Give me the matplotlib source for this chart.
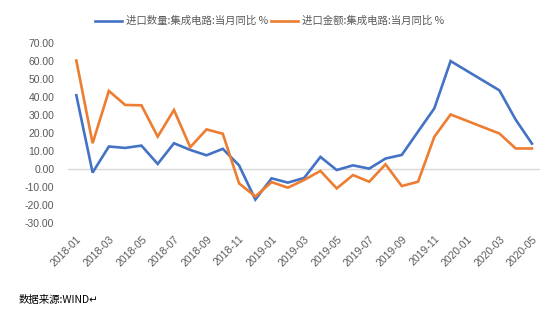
import numpy as np
import matplotlib
matplotlib.use("Agg")
import matplotlib.pyplot as plt

plt.rcParams['font.family'] = ['Liberation Sans', 'Noto Sans CJK SC', 'DejaVu Sans']

# monthly labels 2018-01 .. 2020-05
months = [f"{y}-{m:02d}" for y in (2018, 2019, 2020) for m in range(1, 13)][:29]

# year-on-year growth, %; Jan/Feb 2020 not published separately
qty_yoy = [41.0, -2.0, 12.5, 11.7, 13.0, 2.8, 14.3, 10.6, 7.6, 11.2, 2.0, -17.0,
           -5.2, -7.6, -5.0, 6.7, -0.6, 2.0, 0.2, 5.8, 7.8, 20.8, 33.7, 60.0,
           np.nan, np.nan, 43.7, 27.4, 14.1]
val_yoy = [60.3, 14.3, 43.4, 35.6, 35.4, 18.0, 32.8, 12.1, 22.0, 19.6, -8.0, -15.3,
           -7.3, -10.4, -6.1, -1.1, -10.8, -3.4, -7.1, 2.6, -9.5, -7.1, 17.9, 30.3,
           np.nan, np.nan, 19.7, 11.4, 11.4]

names = ["进口数量:集成电路:当月同比 %", "进口金额:集成电路:当月同比 %"]
colors = ["#4472C4", "#ED7D31"]

fig = plt.figure(figsize=(5.5, 3.24), dpi=100)
ax = fig.add_axes([0.124, 0.312, 0.858, 0.555])

x = np.arange(len(months))
for series, name, c in zip([qty_yoy, val_yoy], names, colors):
    s = np.array(series, dtype=float)
    ok = ~np.isnan(s)
    # connect across the missing months
    ax.plot(x[ok], s[ok], color=c, lw=1.9, label=name, solid_joinstyle='miter')

ax.axhline(0, color="#D9D9D9", lw=1, zorder=0)
ax.set_xlim(-0.5, len(months) - 0.5)
ax.set_ylim(-30, 70)
ax.set_yticks(np.arange(-30, 71, 10))
ax.set_yticklabels([f"{v:.2f}" for v in np.arange(-30, 71, 10)])
ax.set_xticks(x[::2])
ax.set_xticklabels(months[::2], rotation=45, ha='right', rotation_mode='anchor')
ax.tick_params(axis='both', length=0, labelsize=7.5, labelcolor="#595959")
ax.tick_params(axis='y', pad=10)
ax.tick_params(axis='x', pad=8)
for sp in ax.spines.values():
    sp.set_visible(False)

fig.legend(loc='center', bbox_to_anchor=(0.49, 0.935), ncol=2, frameon=False,
           handlelength=2.6, columnspacing=0.3, handletextpad=0.4,
           labelcolor="#595959", prop={'family': ['Noto Sans CJK SC', 'DejaVu Sans'], 'size': 7.5})

fig.text(0.033, 0.066, "数据来源:WIND↵", fontsize=7.5, color="black",
         family=['Noto Sans CJK SC', 'DejaVu Sans'])

fig.savefig("out.png", dpi=100)
